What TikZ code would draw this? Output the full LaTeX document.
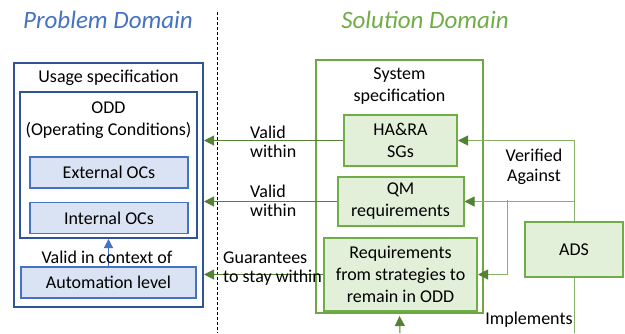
\documentclass[tikz,border=0pt]{standalone}
\usepackage{fontspec}
\setmainfont{Carlito}
\usepackage{tikz}
\usetikzlibrary{arrows.meta,positioning}
\definecolor{probblue}{HTML}{4472C4}
\definecolor{darkblue}{HTML}{2F5597}
\definecolor{lightblue}{HTML}{DAE3F3}
\definecolor{solgreen}{HTML}{70AD47}
\definecolor{darkgreen}{HTML}{548235}
\definecolor{palegreen}{HTML}{A9D18E}
\definecolor{lightgreen}{HTML}{E2F0D9}

\begin{document}
\begin{tikzpicture}[x=1pt, y=-1pt, node distance=13pt and 10pt,
	every node/.style={font=\fontsize{18}{22}\selectfont, inner sep=0pt},
	title/.style={font=\fontsize{25}{28}\selectfont\itshape},
	outerbox/.style={draw=darkblue, line width=2pt},
	ocbox/.style={draw=probblue, fill=lightblue, line width=1.6pt, minimum width=158pt, minimum height=31pt},
	sysbox/.style={draw=solgreen!85!darkgreen, line width=2pt},
	reqbox/.style={draw=solgreen, fill=lightgreen, line width=2pt, align=center},
	lbl/.style={align=left, font=\fontsize{18}{19}\selectfont},
	garrow/.style={-{Triangle[length=10pt, width=10pt]}, darkgreen, line width=1pt},
	adsline/.style={-{Triangle[length=10pt, width=10pt, color=darkgreen]}, palegreen!60!darkgreen, line width=1pt}]
	\useasboundingbox (0,0) rectangle (625,333);
	
	% domains
	\node[title, text=probblue] (pd) at (108,20) {Problem Domain};
	\node[title, text=solgreen] (sd) at (425,20) {Solution Domain};
	\coordinate (dtop) at (217,12);
	\coordinate (dbot) at (217,333);
	\draw[dash pattern=on 3pt off 2pt, line width=0.8pt] (dtop) -- (dbot);
	
	% problem side
	\node[outerbox, minimum width=189pt, minimum height=244pt] (usage) at (108.5,185) {};
	\node[below=8pt of usage.north] (usagetxt) {Usage specification};
	\node[outerbox, minimum width=177pt, minimum height=146pt] (odd) at (108.5,165) {};
	\node[below=11pt of odd.north, align=center] (oddtxt) {ODD\\(Operating Conditions)};
	\node[ocbox] (ext) at (109,172.5) {External OCs};
	\node[ocbox, below=of ext] (int) {Internal OCs};
	\node[ocbox, minimum width=175pt] (auto) at (108.5,282.5) {Automation level};
	\draw[-{Triangle[length=9pt, width=9pt]}, probblue, line width=1.2pt] (auto) -- (odd);
	\node (ctx) at (107,257) {Valid in context of};
	
	% solution side
	\node[sysbox, minimum width=167pt, minimum height=253pt] (sysspec) at (399.5,186.5) {};
	\node[below=9pt of sysspec.north, align=center] (systxt) {System\\specification};
	\node[reqbox, minimum width=113pt, minimum height=51pt] (hara) at (400.5,140.5) {HA\&RA\\SGs};
	\node[reqbox, minimum width=126pt, minimum height=49pt, below=9pt of hara] (qm) {QM\\requirements};
	\node[reqbox, minimum width=153pt, minimum height=73pt, below=10pt of qm] (strat) {Requirements\\from strategies to\\remain in ODD};
	\node[reqbox, minimum width=98pt, minimum height=55pt] (ads) at (574,249.5) {ADS};
	
	% links to problem side
	\draw[garrow] (hara.west) -- (hara.west -| usage.east);
	\draw[garrow] (qm.west) -- (qm.west -| usage.east);
	\draw[garrow] (strat.west) -- (strat.west -| usage.east);
	\node[lbl, anchor=west] (valid1) at (250,142) {Valid\\within};
	\node[lbl, anchor=west] (valid2) at (250,201) {Valid\\within};
	\node[lbl, anchor=west] (guar) at (223,269) {Guarantees\\to stay within};
	
	% ADS links
	\coordinate (split) at (507,199.5);
	\draw[adsline] (ads.north) |- (hara.east);
	\draw[adsline] (ads.north |- qm.east) -- (qm.east);
	\draw[adsline] (split) |- (strat.east);
	\node[lbl, align=center, font=\fontsize{18}{20}\selectfont] (verif) at (534,167) {Verified\\Against};
	\coordinate (adsend) at (574,333);
	\draw[palegreen!60!darkgreen, line width=1pt] (ads.south) -- (adsend);
	\node (impl) at (529,320) {Implements};
	\coordinate (sysin) at (400,333);
	\draw[garrow, shorten >=2pt] (sysin) -- (sysspec.south);
\end{tikzpicture}
\end{document}
